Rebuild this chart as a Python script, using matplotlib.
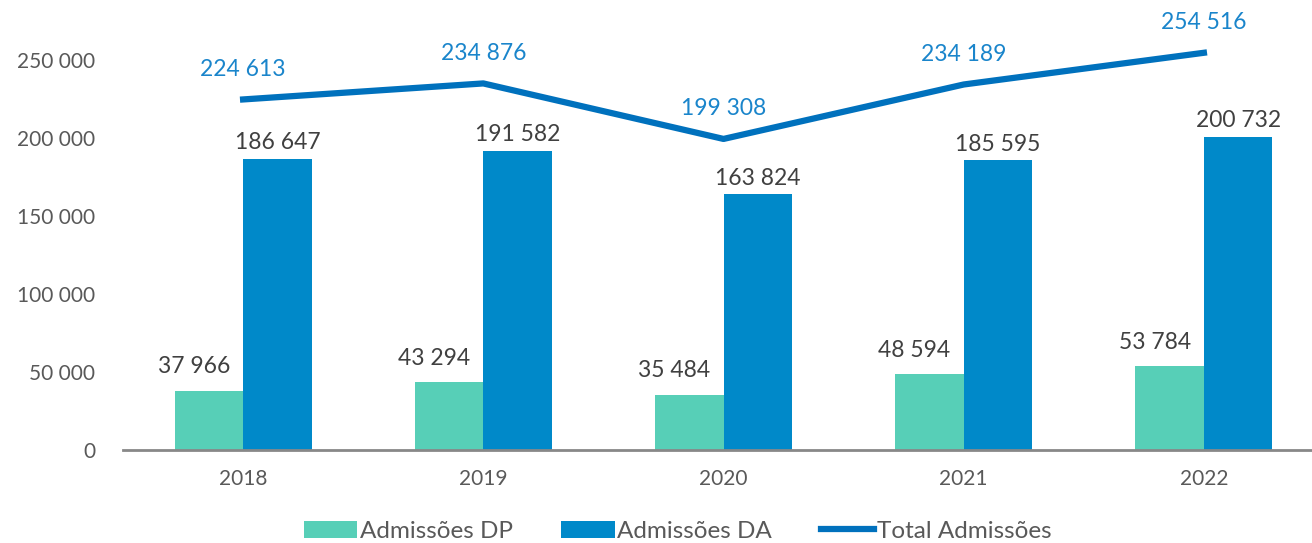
import matplotlib.pyplot as plt
import numpy as np

plt.rcParams['font.family'] = ['Lato', 'DejaVu Sans']

years = ['2018', '2019', '2020', '2021', '2022']
admissoes_dp = [37966, 43294, 35484, 48594, 53784]
admissoes_da = [186647, 191582, 163824, 185595, 200732]
total = [224613, 234876, 199308, 234189, 254516]

def fmt(v):
    return f'{v:,}'.replace(',', ' ')

c_dp = '#57CFB7'
c_da = '#0089C9'
c_line = '#0071BD'
c_text = '#595959'

fig = plt.figure(figsize=(13.12, 5.43), dpi=100)
ax = fig.add_axes([123 / 1312, 93 / 543, 1189 / 1312, 437 / 543])

x = np.arange(len(years))
w = 0.285
b1 = ax.bar(x - w / 2, admissoes_dp, w, color=c_dp, label='Admissões DP')
b2 = ax.bar(x + w / 2, admissoes_da, w, color=c_da, label='Admissões DA')
l1, = ax.plot(x, total, color=c_line, lw=4.5, label='Total Admissões')

for i in range(len(years)):
    ax.annotate(fmt(admissoes_dp[i]), (x[i] - w / 2, admissoes_dp[i]),
                xytext=(-15, 24), textcoords='offset pixels', ha='center', va='center',
                fontsize=16.5, color='#404040')
    ax.annotate(fmt(admissoes_da[i]), (x[i] + w / 2, admissoes_da[i]),
                xytext=(0, 16), textcoords='offset pixels', ha='center', va='center',
                fontsize=16.5, color='#404040')
    ax.annotate(fmt(total[i]), (x[i], total[i]),
                xytext=(0, 30), textcoords='offset pixels', ha='center', va='center',
                fontsize=16.5, color='#1A85CB', annotation_clip=False)

ax.set_xlim(-0.5, 4.45)
ax.set_ylim(0, 280000)
ax.set_xticks(x)
ax.set_xticklabels(years)
yt = [0, 50000, 100000, 150000, 200000, 250000]
ax.set_yticks(yt)
ax.set_yticklabels([fmt(v) for v in yt])
ax.tick_params(axis='both', length=0, labelsize=15, colors=c_text)
ax.tick_params(axis='y', pad=20)
ax.tick_params(axis='x', pad=14)

for s in ['top', 'right', 'left']:
    ax.spines[s].set_visible(False)
ax.spines['bottom'].set_color('#888888')
ax.spines['bottom'].set_linewidth(2)

ax.legend([b1, b2, l1], ['Admissões DP', 'Admissões DA', 'Total Admissões'],
          loc='lower center', bbox_to_anchor=(0.5 - 40 / 1189, -0.26), ncol=3, frameon=False,
          fontsize=17.5, labelcolor=c_text, handlelength=2.2, handleheight=0.7,
          handletextpad=0.1, columnspacing=2.0)

fig.savefig('out.png', dpi=100)
